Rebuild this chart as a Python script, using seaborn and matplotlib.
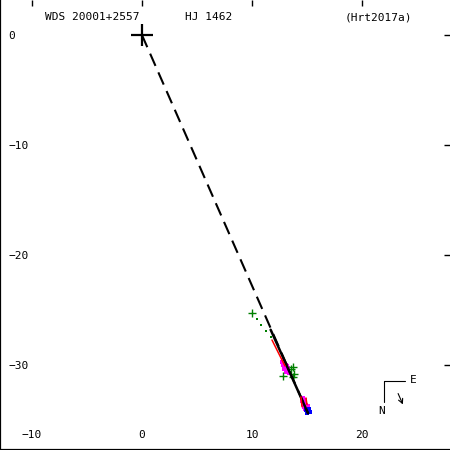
import numpy as np
import pandas as pd
import seaborn as sns
from matplotlib import pyplot as plt

#%% Data (arcsec, east/north offsets as drawn)
primary_x, primary_y = [0.0], [0.0]

line_x = [0.0, 15.1]
line_y = [0.0, -34.4]

fit_x = [11.7, 15.1]
fit_y = [-26.8, -34.4]

green_x = [10.0, 13.73, 13.55, 12.82, 13.82, 13.73]
green_y = [-25.27, -30.18, -30.36, -31.0, -30.82, -31.09]

green_dot_x = [10.45, 10.82, 11.27, 11.73]
green_dot_y = [-25.82, -26.36, -26.91, -27.45]

magenta_x = [12.73, 12.82, 12.91, 13.0, 13.09, 12.91, 13.18, 13.27, 13.09, 13.36, 12.82, 13.18,
             14.64, 14.73, 14.82, 14.64, 14.91, 14.73, 15.0, 14.82, 15.09, 14.91, 14.55, 15.18]
magenta_y = [-29.73, -30.0, -29.82, -30.18, -30.0, -30.36, -30.45, -30.27, -30.64, -30.73, -29.55, -30.09,
             -33.0, -33.36, -33.18, -33.55, -33.64, -33.82, -33.91, -34.0, -33.73, -34.09, -33.27, -34.0]

red_segments = [
    ([11.82, 13.0], [-27.73, -30.09]),
    ([14.45, 14.55], [-32.9, -33.8]),
    ([14.91, 15.0], [-33.0, -33.6]),
]

blue_x = [14.91, 15.09, 15.27, 15.0, 15.18]
blue_y = [-34.09, -34.18, -34.27, -34.36, -34.0]

x_ticks = [-10, 0, 10, 20]
y_ticks = [0, -10, -20, -30]
y_tick_labels = ['0', '\u221210', '\u221220', '\u221230']

#%% Style
sns.set_style('white')
plt.rcParams['font.family'] = ['DejaVu Sans Mono', 'DejaVu Sans']
plt.rcParams['font.size'] = 8
plt.rcParams['text.color'] = 'black'

fig = plt.figure(figsize=(4.5, 4.5), dpi=100)
ax = fig.add_axes([0, 0, 1, 1])

#%% Plot
sns.lineplot(x=line_x, y=line_y, sort=False, color='black', lw=1.5,
             dashes=False, ax=ax, linestyle=(0, (6.4, 3.4)))
sns.lineplot(x=fit_x, y=fit_y, sort=False, color='black', lw=1.8, ax=ax)

for sx, sy in red_segments:
    sns.lineplot(x=sx, y=sy, sort=False, color='red', lw=1.1, ax=ax)

sns.scatterplot(x=green_dot_x, y=green_dot_y, color='green', marker='s', s=2,
                linewidth=0, ax=ax)
sns.scatterplot(x=magenta_x, y=magenta_y, color='magenta', marker='s', s=7,
                linewidth=0, ax=ax)
sns.scatterplot(x=blue_x, y=blue_y, color='blue', marker='s', s=10,
                linewidth=0, ax=ax)
sns.scatterplot(x=green_x, y=green_y, color='green', marker='+', s=30,
                linewidth=1.0, ax=ax)
sns.scatterplot(x=primary_x, y=primary_y, color='black', marker='+', s=260,
                linewidth=1.6, ax=ax)

#%% Axes
ax.set_xlim(-12.9, 28.0)
ax.set_ylim(-37.73, 3.18)
ax.set_xticks(x_ticks)
ax.set_yticks(y_ticks)
ax.set_yticklabels(y_tick_labels)
ax.set_xlabel('')
ax.set_ylabel('')

for side in ['top', 'right']:
    ax.spines[side].set_visible(False)
for side in ['left', 'bottom']:
    ax.spines[side].set_color('black')
    ax.spines[side].set_linewidth(1.6)

ax.tick_params(axis='both', direction='in', length=4, width=1, colors='black',
               labelcolor='black', top=True, right=True, labelsize=8)
ax.tick_params(axis='x', pad=-14.5)
ax.tick_params(axis='y', pad=-6)
for lab in ax.get_yticklabels():
    lab.set_horizontalalignment('left')

#%% Header text
ax.text(45 / 450, 1 - 17 / 450, 'WDS 20001+2557', transform=ax.transAxes,
        ha='left', va='center', fontsize=8, color='black')
ax.text(185 / 450, 1 - 17 / 450, 'HJ 1462', transform=ax.transAxes,
        ha='left', va='center', fontsize=8, color='black')
ax.text(345 / 450, 1 - 17 / 450, '(Hrt2017a)', transform=ax.transAxes,
        ha='left', va='center', fontsize=8, color='black')

#%% Compass
ax.plot([384 / 450, 405 / 450], [1 - 381 / 450, 1 - 381 / 450], color='black',
        lw=0.8, transform=ax.transAxes)
ax.plot([384 / 450, 384 / 450], [1 - 381 / 450, 1 - 402 / 450], color='black',
        lw=0.8, transform=ax.transAxes)
ax.text(410 / 450, 1 - 380 / 450, 'E', transform=ax.transAxes, ha='left',
        va='center', fontsize=8, color='black')
ax.text(382 / 450, 1 - 411 / 450, 'N', transform=ax.transAxes, ha='center',
        va='center', fontsize=8, color='black')
ax.annotate('', xy=(404 / 450, 1 - 407 / 450), xytext=(397 / 450, 1 - 391 / 450),
            xycoords='axes fraction', textcoords='axes fraction',
            arrowprops=dict(arrowstyle='->', color='black', lw=0.8))

fig.savefig('out.png', dpi=100)
plt.close(fig)
